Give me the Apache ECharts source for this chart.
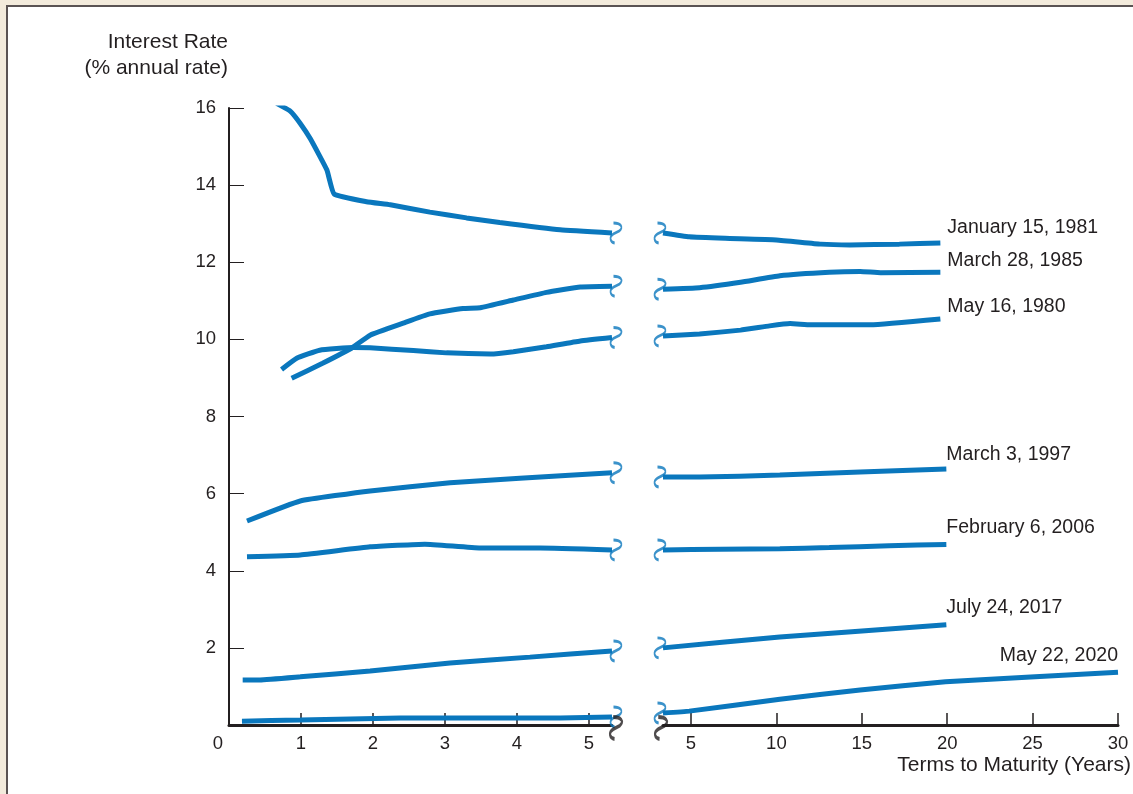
<!DOCTYPE html>
<html>
<head>
<meta charset="utf-8">
<script src="https://cdn.jsdelivr.net/npm/echarts@6/dist/echarts.min.js"></script>
<style>
  html, body { margin:0; padding:0; background:#f3ebdc; width:1133px; height:794px; overflow:hidden; }
  #frame { position:absolute; left:6px; top:5px; width:1127px; height:789px; background:#ffffff;
           border-left:2px solid #5a5353; border-top:2px solid #5a5353; }
  #chart { position:absolute; left:0; top:0; width:1133px; height:794px; }
</style>
</head>
<body>
<div id="frame"></div>
<div id="chart"></div>
<script>
// ---- data ----
const yTicks = [2, 4, 6, 8, 10, 12, 14, 16];
const xTicksShort = [0, 1, 2, 3, 4, 5];
const xTicksLong = [5, 10, 15, 20, 25, 30];
const seriesNames = ['January 15, 1981', 'March 28, 1985', 'May 16, 1980', 'March 3, 1997',
                     'February 6, 2006', 'July 24, 2017', 'May 22, 2020'];

// short maturities (years, %)
const jan1981Short = [[0.66,16.12],[0.85,15.92],[0.99,15.6],[1.13,15.2],[1.36,14.39],[1.46,13.77],[1.91,13.57],[2.24,13.49],[2.79,13.3],[3.3,13.15],[3.76,13.03],[4.6,12.84],[5.32,12.76]];
const mar1985Short = [[0.87,8.99],[1.3,9.38],[1.7,9.77],[1.96,10.11],[2.42,10.42],[2.79,10.66],[3.25,10.8],[3.49,10.82],[3.95,11.02],[4.41,11.22],[4.88,11.36],[5.32,11.38]];
const may1980Short = [[0.73,9.22],[0.94,9.51],[1.26,9.72],[1.73,9.79],[1.96,9.78],[2.56,9.71],[3.02,9.65],[3.63,9.62],[3.95,9.68],[4.41,9.81],[4.88,9.96],[5.32,10.05]];
const mar1997Short = [[0.25,5.29],[0.99,5.81],[1.96,6.07],[3.07,6.28],[4.04,6.4],[5.32,6.54]];
const feb2006Short = [[0.25,4.36],[0.99,4.41],[1.96,4.62],[2.72,4.69],[3.49,4.59],[4.32,4.59],[5.32,4.54]];
const jul2017Short = [[0.19,1.17],[0.43,1.17],[0.99,1.25],[1.96,1.4],[3.07,1.61],[4.18,1.76],[5.32,1.92]];
const may2020Short = [[0.18,0.1],[0.99,0.13],[2.38,0.18],[3.76,0.18],[4.6,0.18],[5.32,0.21]];

// long maturities (years, %)
const jan1981Long = [[3.36,12.76],[4.9,12.66],[7,12.62],[10,12.58],[12.6,12.47],[14.3,12.45],[17.2,12.47],[19.6,12.5]];
const mar1985Long = [[3.36,11.3],[5.5,11.34],[7.9,11.48],[10.2,11.65],[13.1,11.74],[14.9,11.76],[16.1,11.73],[19.6,11.74]];
const may1980Long = [[3.36,10.09],[5.5,10.14],[7.9,10.24],[9.6,10.35],[10.8,10.41],[12.0,10.38],[15.5,10.38],[19.6,10.53]];
const mar1997Long = [[3.36,6.43],[5.5,6.43],[10.2,6.48],[14.9,6.56],[19.95,6.64]];
const feb2006Long = [[3.36,4.54],[6.7,4.56],[10.2,4.57],[13.1,4.6],[16.6,4.65],[19.95,4.68]];
const jul2017Long = [[3.36,2.0],[10.2,2.28],[19.95,2.6]];
const may2020Long = [[3.36,0.31],[4.9,0.36],[10.2,0.67],[14.9,0.91],[19.9,1.12],[30,1.37]];

const shortSets = [jan1981Short, mar1985Short, may1980Short, mar1997Short, feb2006Short, jul2017Short, may2020Short];
const longSets  = [jan1981Long, mar1985Long, may1980Long, mar1997Long, feb2006Long, jul2017Long, may2020Long];
const labelDy = [-15, -12, -12, -14, -17, -17, -17];

const BLUE = '#0a77bd';
const INK = '#231f20';
const FONT = '"Liberation Sans", Arial, Helvetica, sans-serif';
const squiggle = 'path://M3,0 C9,0 12,4 8,8 L3,11 C-1,14 0,19 4,20';

const chart = echarts.init(document.getElementById('chart'), null, {renderer:'canvas'});

const series = [];
shortSets.forEach((d, i) => {
  series.push({
    type:'line', name: seriesNames[i], xAxisIndex:0, yAxisIndex:0, data:d,
    showSymbol:false, smooth:0.12, lineStyle:{color:BLUE, width:5, cap:'butt'}, z:3, silent:true
  });
});
longSets.forEach((d, i) => {
  const last2020 = i === 6;
  series.push({
    type:'line', name: seriesNames[i], xAxisIndex:1, yAxisIndex:1, data:d,
    showSymbol:false, smooth:0.12, lineStyle:{color:BLUE, width:5, cap:'butt'}, z:3, silent:true,
    endLabel:{ show:true, formatter:'{a}', color:INK, fontFamily:FONT, fontSize:19.5,
               distance:0, align: last2020 ? 'right' : 'left', verticalAlign:'middle',
               offset: last2020 ? [0, labelDy[i]] : [(i < 3 ? 7 : 0), labelDy[i]] }
  });
});
// break marks at line ends (derived from data arrays)
series.push({
  type:'scatter', xAxisIndex:0, yAxisIndex:0, silent:true, z:4,
  data: shortSets.map(d => d[d.length - 1]),
  symbol: squiggle, symbolSize:[11,20], symbolOffset:[4,0],
  itemStyle:{color:'rgba(0,0,0,0)', borderColor:BLUE, borderWidth:2.2}
});
series.push({
  type:'scatter', xAxisIndex:1, yAxisIndex:1, silent:true, z:4,
  data: longSets.map(d => d[0]),
  symbol: squiggle, symbolSize:[11,20], symbolOffset:[-3,0],
  itemStyle:{color:'rgba(0,0,0,0)', borderColor:BLUE, borderWidth:2.2}
});
// break marks on the axis
series.push({
  type:'scatter', xAxisIndex:0, yAxisIndex:0, silent:true, z:5,
  data: [[jan1981Short[jan1981Short.length - 1][0], 0]],
  symbol: squiggle, symbolSize:[12,22], symbolOffset:[4,3],
  itemStyle:{color:'rgba(0,0,0,0)', borderColor:INK, borderWidth:2.8}
});
series.push({
  type:'scatter', xAxisIndex:1, yAxisIndex:1, silent:true, z:5,
  data: [[jan1981Long[0][0], 0]],
  symbol: squiggle, symbolSize:[12,22], symbolOffset:[-2,3],
  itemStyle:{color:'rgba(0,0,0,0)', borderColor:INK, borderWidth:2.8}
});

const option = {
  animation:false,
  textStyle:{fontFamily:FONT},
  grid:[
    {left:229, top:108, width:383, height:617},
    {left:663, top:108, width:455, height:617}
  ],
  xAxis:[
    { type:'value', gridIndex:0, min:0, max:5.32,
      axisLine:{show:true, lineStyle:{color:INK, width:3}},
      axisTick:{show:true, inside:true, length:12, customValues:[1,2,3,4,5], lineStyle:{color:INK, width:1.5}},
      axisLabel:{ customValues:xTicksShort, color:INK, fontSize:18.5, margin:9,
                  formatter: v => v === 0 ? '{z|0}' : String(v),
                  rich:{ z:{ color:INK, fontSize:18.5, fontFamily:FONT, padding:[0,22,0,0] } } },
      splitLine:{show:false} },
    { type:'value', gridIndex:1, min:3.36, max:30,
      axisLine:{show:true, lineStyle:{color:INK, width:3}},
      axisTick:{show:true, inside:true, length:12, customValues:xTicksLong, lineStyle:{color:INK, width:1.5}},
      axisLabel:{ customValues:xTicksLong, color:INK, fontSize:18.5, margin:9 },
      splitLine:{show:false} }
  ],
  yAxis:[
    { type:'value', gridIndex:0, min:0, max:16,
      axisLine:{show:true, lineStyle:{color:INK, width:2}},
      axisTick:{show:true, inside:true, length:15, customValues:yTicks, lineStyle:{color:INK, width:1}},
      axisLabel:{ customValues:yTicks, color:INK, fontSize:18.5, margin:13, verticalAlign:'middle' },
      splitLine:{show:false} },
    { type:'value', gridIndex:1, min:0, max:16, show:false, splitLine:{show:false} }
  ],
  graphic:[
    { type:'text', x:228, y:42, style:{ text:'Interest Rate', fill:INK, font:'21px ' + FONT, align:'right', verticalAlign:'middle' } },
    { type:'text', x:228, y:68, style:{ text:'(% annual rate)', fill:INK, font:'21px ' + FONT, align:'right', verticalAlign:'middle' } },
    { type:'text', x:1131, y:765, style:{ text:'Terms to Maturity (Years)', fill:INK, font:'21px ' + FONT, align:'right', verticalAlign:'middle' } }
  ],
  series: series
};
chart.setOption(option);
</script>
</body>
</html>
